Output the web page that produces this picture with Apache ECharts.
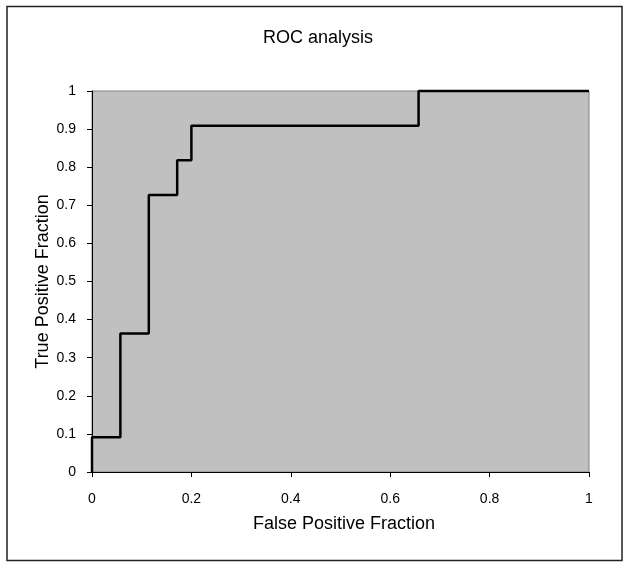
<!DOCTYPE html>
<html><head><meta charset="utf-8">
<script src="https://cdn.jsdelivr.net/npm/echarts@6/dist/echarts.min.js"></script>
<style>html,body{margin:0;padding:0;background:#fff}#c{width:643px;height:579px}</style>
</head><body><div id="c"></div>
<script>
const titleText = "ROC analysis";
const xName = "False Positive Fraction";
const yName = "True Positive Fraction";
const fpf = [0, 0, 0.0571, 0.1143, 0.1714, 0.2, 0.6571, 1];
const tpf = [0, 0.0909, 0.3636, 0.7273, 0.8182, 0.9091, 1, 1];

const chart = echarts.init(document.getElementById('c'));
const font = 'Liberation Sans, Arial, sans-serif';
chart.setOption({
  animation: false,
  backgroundColor: '#fff',
  title: { text: titleText, left: 258, top: 24, textStyle: { fontFamily: font, fontSize: 18, fontWeight: 'normal', color: '#000' } },
  graphic: [{ type: 'rect', shape: { x: 7, y: 6.5, width: 615, height: 554 }, style: { fill: 'none', stroke: '#222', lineWidth: 1.5 }, z: -1 }],
  grid: { left: 92, right: 54, top: 91, bottom: 107, show: true, backgroundColor: '#c0c0c0', borderColor: '#808080', borderWidth: 1 },
  xAxis: {
    type: 'value', min: 0, max: 1, interval: 0.2,
    name: xName, nameLocation: 'middle', nameGap: 43, nameMoveOverlap: false,
    nameTextStyle: { fontFamily: font, fontSize: 18, color: '#000', padding: [0, 0, 0, 7] },
    axisLine: { show: true, lineStyle: { color: '#000', width: 1 } },
    axisTick: { show: true, length: 5, lineStyle: { color: '#000' } },
    axisLabel: { fontFamily: font, fontSize: 14, color: '#000', margin: 20 },
    splitLine: { show: false }
  },
  yAxis: {
    type: 'value', min: 0, max: 1, interval: 0.1,
    name: yName, nameLocation: 'middle', nameGap: 40, nameMoveOverlap: false,
    nameTextStyle: { fontFamily: font, fontSize: 18, color: '#000' },
    axisLine: { show: true, lineStyle: { color: '#000', width: 1 } },
    axisTick: { show: true, length: 5, lineStyle: { color: '#000' } },
    axisLabel: { fontFamily: font, fontSize: 14, color: '#000', margin: 16, formatter: v => String(Math.round(v * 10) / 10) },
    splitLine: { show: false }
  },
  series: [{
    type: 'line', step: 'end', symbol: 'none',
    data: fpf.map((x, i) => [x, tpf[i]]),
    lineStyle: { color: '#000', width: 2.5 },
    clip: false
  }]
});
</script></body></html>
